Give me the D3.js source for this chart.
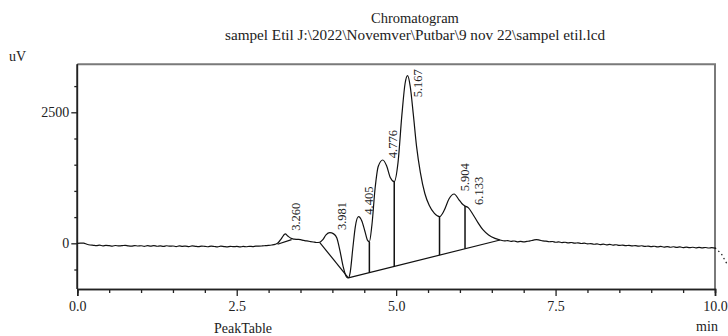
<!DOCTYPE html>
<html><head><meta charset="utf-8">
<script src="https://cdn.jsdelivr.net/npm/d3@7"></script>
<style>
html,body{margin:0;padding:0;background:#fff;}
svg text{font-family:"Liberation Serif","Times New Roman",serif;fill:#222;}
</style></head>
<body><svg id="c" width="728" height="336"></svg>
<script>
// ---- data ----
const traceTimes = [0.00,0.05,0.10,0.15,0.20,0.25,0.30,0.35,0.40,0.45,0.50,0.55,0.60,0.65,0.70,0.75,0.80,0.85,0.90,0.95,1.00,1.05,1.10,1.15,1.20,1.25,1.30,1.35,1.40,1.45,1.50,1.55,1.60,1.65,1.70,1.75,1.80,1.85,1.90,1.95,2.00,2.05,2.10,2.15,2.20,2.25,2.30,2.35,2.40,2.45,2.50,2.55,2.60,2.65,2.70,2.75,2.80,2.85,2.90,2.95,3.00,3.05,3.10,3.15,3.20,3.26,3.30,3.35,3.40,3.45,3.50,3.55,3.60,3.65,3.70,3.75,3.80,3.85,3.90,3.96,4.02,4.07,4.12,4.17,4.22,4.25,4.28,4.32,4.36,4.41,4.46,4.51,4.55,4.58,4.62,4.67,4.72,4.79,4.85,4.91,4.97,5.03,5.09,5.14,5.18,5.22,5.27,5.32,5.38,5.45,5.52,5.60,5.68,5.75,5.83,5.91,5.98,6.03,6.08,6.13,6.20,6.28,6.36,6.45,6.55,6.63,6.70,6.75,6.80,6.85,6.90,6.95,7.00,7.05,7.10,7.15,7.20,7.25,7.30,7.35,7.40,7.45,7.50,7.55,7.60,7.65,7.70,7.75,7.80,7.85,7.90,7.95,8.00,8.05,8.10,8.15,8.20,8.25,8.30,8.35,8.40,8.45,8.50,8.55,8.60,8.65,8.70,8.75,8.80,8.85,8.90,8.95,9.00,9.05,9.10,9.15,9.20,9.25,9.30,9.35,9.40,9.45,9.50,9.55,9.60,9.65,9.70,9.75,9.80,9.85,9.90,9.95,10.00];
const traceValues = [0,4,2,-18,-32,-38,-44,-36,-48,-40,-45,-52,-42,-50,-46,-38,-49,-54,-43,-51,-47,-57,-46,-53,-44,-56,-49,-60,-47,-55,-51,-62,-50,-58,-53,-63,-50,-57,-64,-52,-58,-66,-54,-61,-67,-55,-62,-69,-57,-65,-59,-70,-60,-66,-57,-63,-55,-54,-50,-45,-40,-32,-20,10,90,180,140,95,80,75,70,55,45,35,25,15,20,70,160,202,180,100,-150,-450,-640,-660,-550,-100,320,508,430,230,60,30,350,1050,1470,1590,1480,1250,1176,1550,2450,3050,3200,3000,2450,1850,1350,950,720,570,508,620,850,941,840,760,712,680,560,400,260,160,95,63,45,52,36,44,28,37,26,36,46,60,72,60,46,40,30,34,20,27,14,20,8,15,2,9,-4,3,-12,-6,-18,-11,-24,-16,-29,-22,-35,-28,-40,-33,-46,-38,-50,-43,-55,-47,-60,-52,-64,-56,-68,-60,-71,-63,-75,-66,-78,-69,-81,-72,-84,-75,-86,-79,-88,-80,-90,-83,-92,-85];
const overflowTimes = [10.00,10.10,10.20];
const overflowValues = [-85,-200,-420];
const peakLabels = ["3.260","3.981","4.405","4.776","5.167","5.904","6.133"];
const baselineSegments = [
  [[3.14,-19],[3.36,70]],
  [[3.80,19],[4.25,-660]],
  [[4.25,-660],[6.63,63]]
];
const dropTimes = [4.58,4.97,5.68,6.08];
const xMajorTicks = [0,2.5,5,7.5,10];
const xTickLabels = ["0.0","2.5","5.0","7.5","10.0"];
const yLabeledTicks = [0,2500];
const yMinorTicks = [-500,500,1000,1500,2000,3000];

// ---- layout ----
const svg = d3.select("#c");
const L = 77.3, R = 715, T = 64.3, B = 289;
const x = d3.scaleLinear().domain([0,10]).range([L,R]);
const y = d3.scaleLinear().domain([-872,3416]).range([B,T]);
const trace = traceTimes.map((t,i)=>[t,traceValues[i]]);
const valAt = t => {
  const j = Math.max(1, Math.min(trace.length-1, d3.bisectLeft(traceTimes, t)));
  const a = trace[j-1], b = trace[j];
  return a[1] + (b[1]-a[1])*(t-a[0])/(b[0]-a[0]);
};

// titles
svg.append("text").attr("x",415).attr("y",23).attr("text-anchor","middle").attr("font-size",14.5).text("Chromatogram");
svg.append("text").attr("x",415).attr("y",40).attr("text-anchor","middle").attr("font-size",15)
  .attr("textLength",380).attr("lengthAdjust","spacingAndGlyphs")
  .text("sampel Etil J:\\2022\\Novemver\\Putbar\\9 nov 22\\sampel etil.lcd");
svg.append("text").attr("x",9).attr("y",61).attr("font-size",14).text("uV");
svg.append("text").attr("x",243).attr("y",333).attr("text-anchor","middle").attr("font-size",14).text("PeakTable");
svg.append("text").attr("x",707).attr("y",331).attr("text-anchor","middle").attr("font-size",14).text("min");

// frame top/right
svg.append("path").attr("d",`M${L},${T}H${R}V${B}`).attr("fill","none").attr("stroke","#7a7a7a").attr("stroke-width",2);

// axes
const xMinor = d3.range(0,10.01,0.5).filter(v=>!xMajorTicks.includes(v));
const xAxisMinor = d3.axisBottom(x).tickValues(xMinor).tickSize(4).tickFormat("");
const xAxisMajor = d3.axisBottom(x).tickValues(xMajorTicks).tickSize(7).tickFormat((d,i)=>xTickLabels[i]).tickPadding(5);
const gx1 = svg.append("g").attr("transform",`translate(0,${B})`).call(xAxisMinor);
const gx2 = svg.append("g").attr("transform",`translate(0,${B})`).call(xAxisMajor);
const yAxisMinor = d3.axisLeft(y).tickValues(yMinorTicks).tickSize(3).tickFormat("");
const yAxisMajor = d3.axisLeft(y).tickValues(yLabeledTicks).tickSize(6).tickFormat(d3.format("d")).tickPadding(2);
const gy1 = svg.append("g").attr("transform",`translate(${L},0)`).call(yAxisMinor);
const gy2 = svg.append("g").attr("transform",`translate(${L},0)`).call(yAxisMajor);
[gx1,gx2,gy1,gy2].forEach(g=>{
  g.select(".domain").attr("stroke","#222").attr("stroke-width",1.6);
  g.selectAll(".tick line").attr("stroke","#222").attr("stroke-width",1.3);
  g.selectAll(".tick text").attr("font-family",'"Liberation Serif","Times New Roman",serif').attr("font-size",14).attr("fill","#222");
});
gy1.select(".domain").attr("d",`M0,${T}V${B}`);
gy2.select(".domain").attr("d",`M0,${T}V${B}`);

// trace
const line = d3.line().x(d=>x(d[0])).y(d=>y(d[1])).curve(d3.curveMonotoneX);
svg.append("path").datum(trace).attr("d",line).attr("fill","none").attr("stroke","#111").attr("stroke-width",1.2);
svg.append("path").datum(overflowTimes.map((t,i)=>[t,overflowValues[i]])).attr("d",d3.line().x(d=>x(d[0])).y(d=>y(d[1])))
  .attr("fill","none").attr("stroke","#111").attr("stroke-width",1.2).attr("stroke-dasharray","1.5,3");

// baselines
svg.selectAll(".bl").data(baselineSegments).join("path").attr("class","bl")
  .attr("d",d=>d3.line().x(p=>x(p[0])).y(p=>y(p[1]))(d))
  .attr("fill","none").attr("stroke","#111").attr("stroke-width",1.2);
const seg = baselineSegments[2];
const blAt = t => seg[0][1] + (seg[1][1]-seg[0][1])*(t-seg[0][0])/(seg[1][0]-seg[0][0]);
svg.selectAll(".drop").data(dropTimes).join("line").attr("class","drop")
  .attr("x1",d=>x(d)).attr("x2",d=>x(d)).attr("y1",d=>y(blAt(d))).attr("y2",d=>y(valAt(d)))
  .attr("stroke","#111").attr("stroke-width",1.5);

// peak labels (rotated, reading bottom to top)
svg.selectAll(".pl").data(peakLabels).join("text").attr("class","pl")
  .attr("font-size",12.5).attr("text-anchor","start").attr("fill","#2a3140")
  .attr("transform",d=>{
    const t = +d; let Y = y(valAt(t)) - 3;
    Y = Math.max(Y, T + 33);
    return `translate(${x(t)+15},${Y}) rotate(-90)`;
  }).text(d=>d);
</script></body></html>
